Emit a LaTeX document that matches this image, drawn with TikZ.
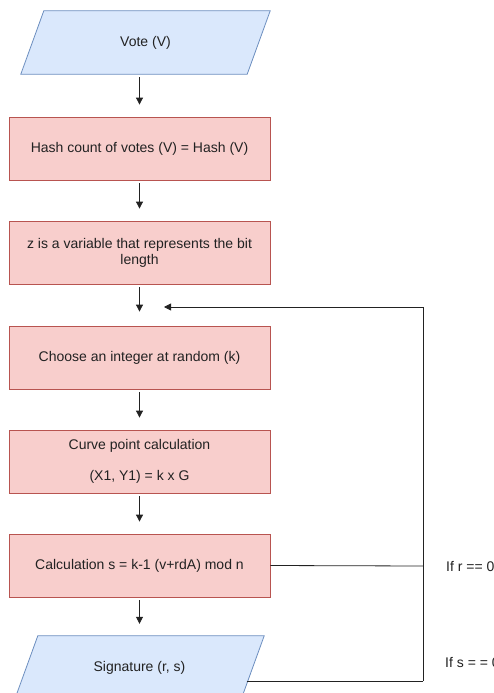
\documentclass[tikz,border=0pt]{standalone}
\usepackage{fontspec}
\setmainfont{Liberation Sans}
\usetikzlibrary{arrows.meta,calc,backgrounds}
\definecolor{bfill}{HTML}{DAE8FC}
\definecolor{bdraw}{HTML}{6C8EBF}
\definecolor{rfill}{HTML}{F8CECC}
\definecolor{rdraw}{HTML}{B85450}
\definecolor{ink}{HTML}{222222}
\tikzset{
  txt/.style={font=\fontsize{14}{16}\selectfont, text=ink},
  proc/.style={txt, draw=rdraw, fill=rfill, line width=0.8pt, minimum width=261pt, minimum height=63pt, inner sep=0pt, align=center},
  iotext/.style={txt, minimum width=226pt, minimum height=63pt, inner sep=0pt, align=center},
  ioshape/.style={draw=bdraw, fill=bfill, line width=0.8pt},
  arr/.style={-{Triangle[length=7pt,width=7pt]}, line width=0.8pt, draw=ink},
  conn/.style={line width=0.8pt, draw=ink},
}
\begin{document}
\begin{tikzpicture}[x=1pt,y=-1pt]
\useasboundingbox (0,0) rectangle (494,693);

\node[iotext] (vote) at (145.5,42.5) {Vote (V)};
\node[proc] (hash) at (139.5,148.5) {Hash count of votes (V) = Hash (V)};
\node[proc] (zbit) at (139.5,252.5) {z is a variable that represents the bit\\length};
\node[proc] (rand) at (139.5,357.5) {Choose an integer at random (k)};
\node[proc] (curve) at (139.5,461.5) {Curve point calculation\\[15pt](X1, Y1) = k x G};
\node[proc] (calc) at (139.5,565.5) {Calculation s = k-1 (v+rdA) mod n};
\node[iotext] (sig) at (139.5,667.5) {Signature (r, s)};

\begin{pgfonlayer}{background}
\draw[ioshape] ($(vote.north west)+(11.5,0)$) -- ($(vote.north east)+(11.5,0)$) -- ($(vote.south east)+(-11.5,0)$) -- ($(vote.south west)+(-11.5,0)$) -- cycle;
\draw[ioshape] ($(sig.north west)+(11.5,0)$) -- ($(sig.north east)+(11.5,0)$) -- ($(sig.south east)+(-11.5,0)$) -- ($(sig.south west)+(-11.5,0)$) -- cycle;
\end{pgfonlayer}

\draw[arr] ([yshift=-3pt]vote.south -| hash.north) -- ([yshift=12pt]hash.north);
\draw[arr] ([yshift=-3pt]hash.south) -- ([yshift=12pt]zbit.north);
\draw[arr] ([yshift=-3pt]zbit.south) -- ([yshift=14pt]rand.north);
\draw[arr] ([yshift=-3pt]rand.south) -- ([yshift=12pt]curve.north);
\draw[arr] ([yshift=-3pt]curve.south) -- ([yshift=12pt]calc.north);
\draw[arr] ([yshift=-3pt]calc.south) -- ([yshift=12pt]sig.north);

\coordinate (loopin) at (164,307);
\coordinate (loopcorner) at (423,307);
\coordinate (rcorner) at (423,566);
\coordinate (scorner) at (423,681);
\coordinate (sigout) at (246.6,681);

\draw[conn] (calc.east) -- (rcorner);
\draw[conn] (sigout) -- (scorner);
\draw[arr] (scorner) -- (loopcorner) -- (loopin);

\node[txt, anchor=west, inner sep=0pt] (ifr) at (446,566) {If r == 0};
\node[txt, anchor=west, inner sep=0pt] (ifs) at (445,662) {If s = = 0};
\end{tikzpicture}
\end{document}
